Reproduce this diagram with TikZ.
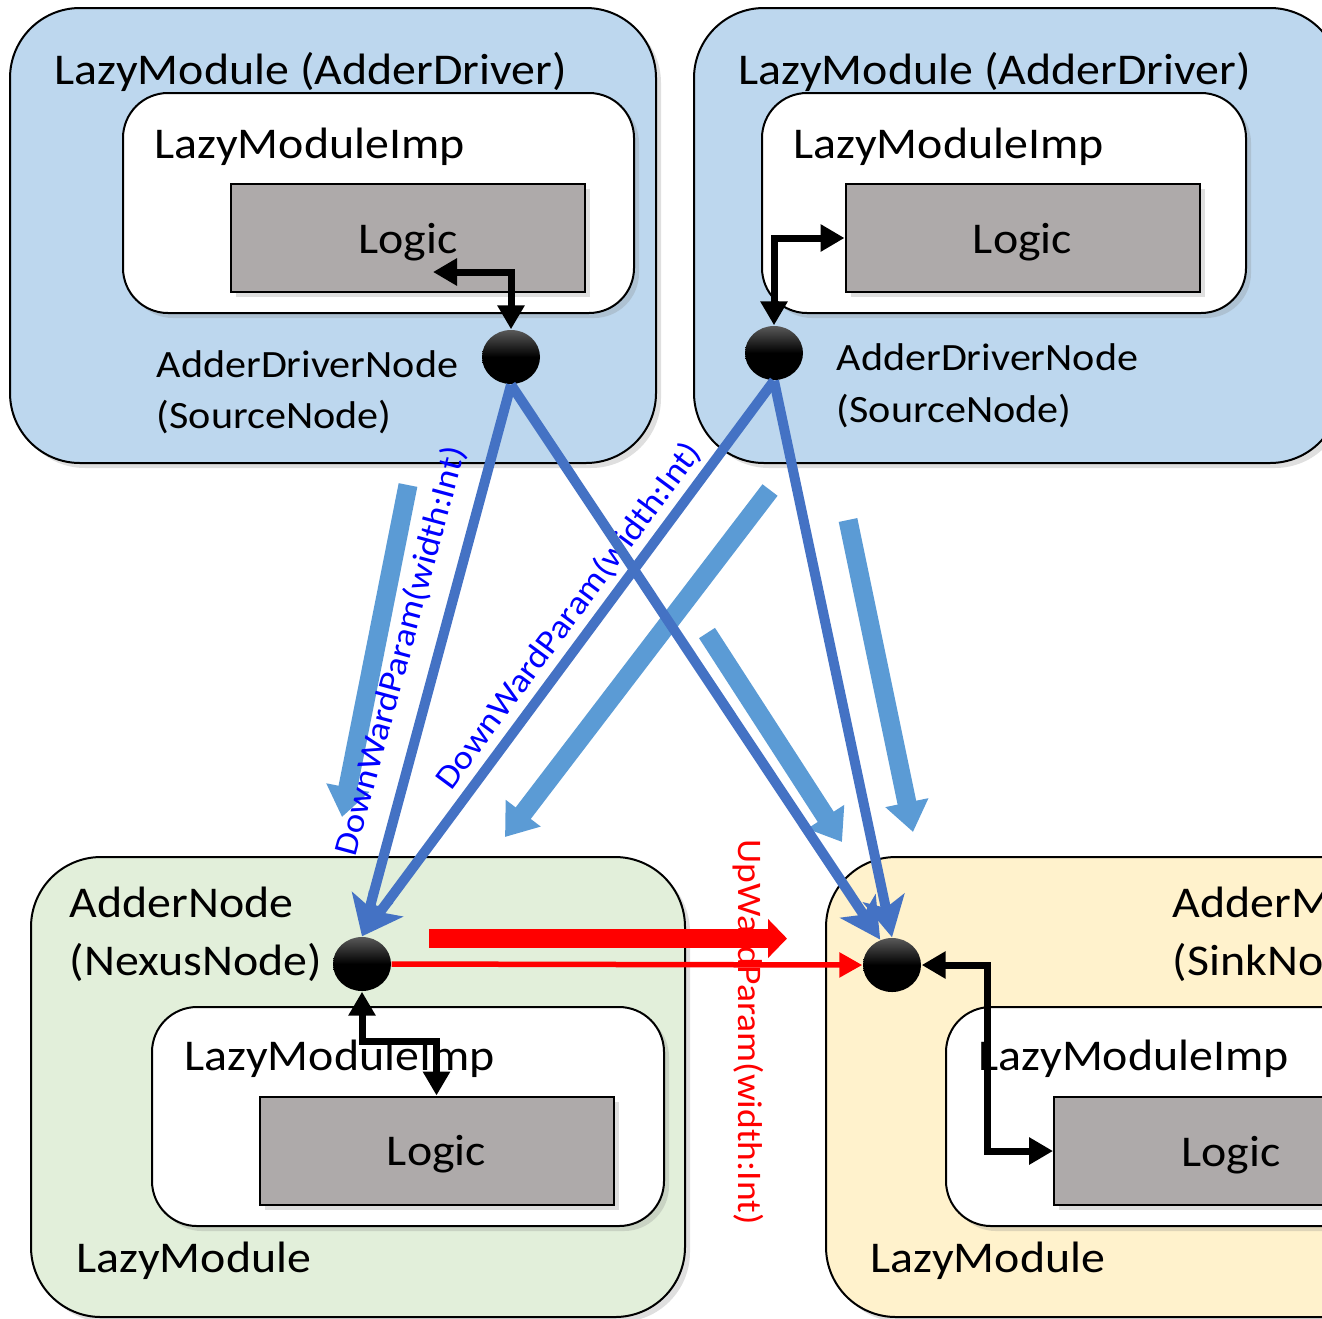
\documentclass[tikz,border=0pt]{standalone}
\usepackage{fontspec}
\setmainfont{Carlito}[FakeStretch=1.09]
\usetikzlibrary{arrows.meta,shadows,shapes.geometric}
\definecolor{drvfill}{HTML}{BDD7EE}
\definecolor{nexfill}{HTML}{E2EFDA}
\definecolor{sinkfill}{HTML}{FFF2CC}
\definecolor{logicfill}{HTML}{AEAAAA}
\definecolor{edgeblue}{HTML}{4472C4}
\definecolor{flowblue}{HTML}{5B9BD5}

\begin{document}
\begin{tikzpicture}[x=0.1mm, y=-0.1mm,
	every node/.style={font=\fontsize{12.5}{15}\selectfont},
	modbox/.style={draw, line width=0.2mm, rounded corners=7mm, drop shadow={opacity=0.25, shadow xshift=0.5mm, shadow yshift=-0.5mm}},
	impbox/.style={draw, fill=white, line width=0.2mm, rounded corners=4.5mm, drop shadow={opacity=0.25, shadow xshift=0.5mm, shadow yshift=-0.5mm}},
	logicbox/.style={draw, fill=logicfill, line width=0.2mm, minimum width=35.4mm, minimum height=10.8mm, text depth=0pt, drop shadow={opacity=0.25, shadow xshift=0.5mm, shadow yshift=-0.5mm}},
	txt/.style={anchor=base west, inner sep=0pt},
	srctxt/.style={txt, font=\fontsize{11}{13}\selectfont},
	dot/.style={ellipse, minimum width=5.8mm, minimum height=5.4mm, inner sep=0pt, top color=black!65, bottom color=black, middle color=black},
	ctl/.style={draw, line width=0.7mm, {Triangle[length=2.4mm,width=2.6mm]}-{Triangle[length=2.4mm,width=2.6mm]}},
	down/.style={draw=edgeblue, line width=1mm, -{Stealth[length=4mm,width=4.2mm,inset=1mm]}},
	downlbl/.style={sloped, text=blue, inner sep=0.5mm, font=\fontsize{9.6}{12}\selectfont},
	flow/.style={draw=flowblue, line width=1.9mm, -{Triangle[length=3mm,width=4.2mm]}},
	upbar/.style={draw=red, line width=1.9mm, -{Triangle[length=1.9mm,width=3.8mm]}},
	upline/.style={draw=red, line width=0.55mm, -{Triangle[length=2.3mm,width=2.4mm]}},
	uplbl/.style={rotate=-90, text=red, inner sep=0pt, font=\fontsize{9.8}{12}\selectfont}]

	\useasboundingbox (0,0) rectangle (1322,1318);
	\clip (0,0) rectangle (1322,1318);

	\begin{scope}[shift={(10,8)}]
	\draw[modbox, fill=drvfill] (0,0) rectangle (646,455);
	\draw[impbox] (113,85) rectangle (624,305);
	\node[logicbox] (logic1) at (398,230) {Logic};
	\node[txt] (drvttl1) at (44,76) {LazyModule (AdderDriver)};
	\node[txt] (impttl1) at (144,150) {LazyModuleImp};
	\node[srctxt] (drvname1) at (146,369) {AdderDriverNode};
	\node[srctxt] (drvkind1) at (146,420) {(SourceNode)};
	\node[dot] (drv1) at (501,349) {};
	\coordinate (lgin1) at (423,264);
	\end{scope}

	\begin{scope}[shift={(694,8)}]
	\draw[modbox, fill=drvfill] (0,0) rectangle (646,455);
	\draw[impbox] (68,85) rectangle (552,305);
	\node[logicbox] (logic2) at (328.5,230) {Logic};
	\node[txt] (drvttl2) at (44,76) {LazyModule (AdderDriver)};
	\node[txt] (impttl2) at (99,150) {LazyModuleImp};
	\node[srctxt] (drvname2) at (142,362) {AdderDriverNode};
	\node[srctxt] (drvkind2) at (142,414) {(SourceNode)};
	\node[dot] (drv2) at (80,345) {};
	\end{scope}

	\begin{scope}[shift={(31,857)}]
	\draw[modbox, fill=nexfill] (0,0) rectangle (654,460);
	\draw[impbox] (121,150) rectangle (633,369);
	\node[logicbox] (logic3) at (405.5,293.5) {Logic};
	\node[txt] (nexname) at (38,60) {AdderNode};
	\node[txt] (nexkind) at (38,118) {(NexusNode)};
	\node[txt] (impttl3) at (153,213) {LazyModuleImp};
	\node[txt] (modttl3) at (45,415) {LazyModule};
	\node[dot] (nex) at (331,107) {};
	\end{scope}

	\begin{scope}[shift={(826,857)}]
	\draw[modbox, fill=sinkfill] (0,0) rectangle (654,460);
	\draw[impbox] (120,150) rectangle (632,369);
	\node[logicbox] (logic4) at (405,294) {Logic};
	\node[txt] (sinkname) at (346,60) {AdderMonitorNode};
	\node[txt] (sinkkind) at (346,118) {(SinkNode)};
	\node[txt] (impttl4) at (152,213) {LazyModuleImp};
	\node[txt] (modttl4) at (44,415) {LazyModule};
	\node[dot] (sink) at (66,108) {};
	\end{scope}

	% parameter flow
	\coordinate (flowa0) at (408,485); \coordinate (flowa1) at (342,817);
	\coordinate (flowb0) at (770,490); \coordinate (flowb1) at (505,837);
	\coordinate (flowc0) at (707,633); \coordinate (flowc1) at (842,842);
	\coordinate (flowd0) at (848,520); \coordinate (flowd1) at (913,832);
	\draw[flow] (flowa0) -- (flowa1);
	\draw[flow] (flowb0) -- (flowb1);
	\draw[flow] (flowc0) -- (flowc1);
	\draw[flow] (flowd0) -- (flowd1);

	\draw[down] (drv1.south) -- node[downlbl, pos=0.5, above=1.2mm] {DownWardParam(width:Int)} (nex.north);
	\draw[down] (drv2.south) -- node[downlbl, pos=0.45, above=0mm] {DownWardParam(width:Int)} (nex.north);
	\draw[down] (drv1.south) -- (sink.115);
	\draw[down] (drv2.south) -- (sink.north);

	\coordinate (upbar0) at (429,938.5); \coordinate (upbar1) at (787,938.5);
	\node[uplbl] (upw) at (748,1032) {UpWardParam(width:Int)};
	\draw[upbar] (upbar0) -- (upbar1);
	\draw[upline] (nex.east) -- (sink.west);

	\draw[ctl] (lgin1) -| (drv1.north);
	\draw[ctl] (logic2.west) -| (drv2.north);
	\draw[ctl] (nex.south) |- ([yshift=5.4mm]logic3.north) -- (logic3.north);
	\draw[ctl] (sink.east) -| ([xshift=-6.6mm]logic4.west) -- (logic4.west);
\end{tikzpicture}
\end{document}
